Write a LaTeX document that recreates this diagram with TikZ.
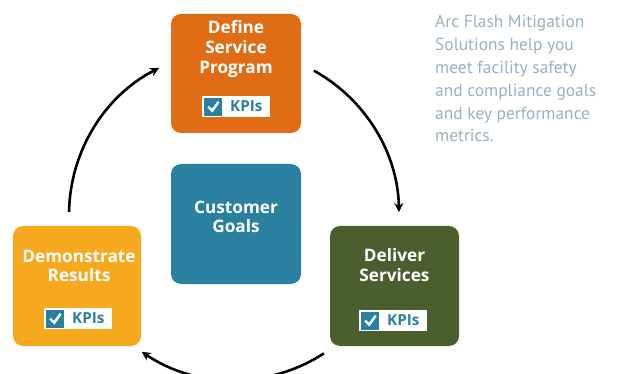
\documentclass[tikz,border=0pt]{standalone}
\usepackage{fontspec}
\setmainfont{Open Sans}
\newfontfamily\sidefont{PT Sans}
\usetikzlibrary{arrows.meta}
\definecolor{orng}{HTML}{E06C15}
\definecolor{tealc}{HTML}{2A809F}
\definecolor{grn}{HTML}{4B5E2E}
\definecolor{yel}{HTML}{F6A81E}
\definecolor{gtxt}{HTML}{9BB0BF}
\begin{document}
\begin{tikzpicture}[x=1pt,y=-1pt,
 box/.style={rounded corners=10pt, inner sep=0pt, minimum width=130pt, minimum height=120pt, draw=none},
 lbl/.style={text=white, font=\fontsize{17.2}{19.7}\selectfont\bfseries, anchor=base, inner sep=0pt},
 badge/.style={fill=white, minimum width=68pt, minimum height=21pt, inner sep=0pt},
 chk/.style={fill=tealc, minimum size=18pt, inner sep=0pt},
 kpi/.style={text=tealc, font=\fontsize{15.2}{16}\selectfont\bfseries, anchor=base west, inner sep=0pt},
 side/.style={text=gtxt, font=\sidefont\fontsize{17.4}{20}\selectfont, anchor=base west, inner sep=0pt},
 arr/.style={line width=2.6pt, -{Stealth[length=9pt,width=9pt]}}]
\useasboundingbox (0,0) rectangle (632,374);

% boxes
\node[box, fill=orng, minimum height=119pt] (define) at (236,73.5) {};
\node[box, fill=tealc] (goals) at (236,224) {};
\node[box, fill=grn, minimum width=129pt] (deliver) at (394.5,286) {};
\node[box, fill=yel, minimum width=128pt] (demo) at (77,286) {};

% labels
\node[lbl] (d1) at (236,34) {Define};
\node[lbl] (d2) at (236,54) {Service};
\node[lbl] (d3) at (236,73.5) {Program};
\node[lbl] (g1) at (236,213.3) {Customer};
\node[lbl] (g2) at (236,232.7) {Goals};
\node[lbl] (v1) at (394.5,261.7) {Deliver};
\node[lbl] (v2) at (394.5,281) {Services};
\node[lbl] (m1) at (79,262.3) {Demonstrate};
\node[lbl] (m2) at (79,281) {Results};

% badges
\foreach \n/\x/\y in {bd/202/96, bv/359/310, bm/44/308}{
  \node[badge, anchor=north west] (\n) at (\x,\y) {};
  \node[chk, anchor=west] (\n c) at ([xshift=2pt]\n.west) {};
  \draw[white, line width=2.4pt] ([shift={(-5,0)}]\n c.center) -- ([shift={(-1,4)}]\n c.center) -- ([shift={(5.5,-5)}]\n c.center);
  \node[kpi] (\n t) at ([xshift=28pt, yshift=-5.2pt]\n.west) {KPIs};
}

% side text
\node[side] (s1) at (435,28) {Arc Flash Mitigation};
\node[side] (s2) at (435,50.8) {Solutions help you};
\node[side] (s3) at (435,73.6) {meet facility safety};
\node[side] (s4) at (435,96.4) {and compliance goals};
\node[side] (s5) at (435,119.2) {and key performance};
\node[side] (s6) at (435,142) {metrics.};

% arrows
\coordinate (o) at (234,215);
\coordinate (a1) at ([shift={(181:165)}]o);
\coordinate (a2) at ([shift={(299:165)}]o);
\coordinate (a3) at ([shift={(57:165)}]o);
\draw[arr] (a1) arc[start angle=181, end angle=243, radius=165];
\draw[arr] (a2) arc[start angle=299, end angle=359, radius=165];
\draw[arr] (a3) arc[start angle=57, end angle=124, radius=165];
\end{tikzpicture}
\end{document}
